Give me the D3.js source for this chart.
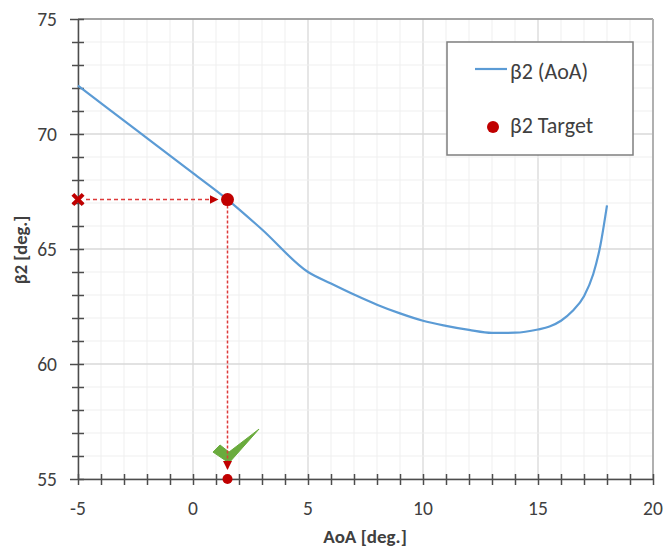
<!DOCTYPE html>
<html><head><meta charset="utf-8">
<script src="https://cdn.jsdelivr.net/npm/d3@7"></script>
<style>body{margin:0;background:#fff}svg{display:block}</style>
</head><body>
<script>
const aoa   = [-5,-2.5,0,1.5,3,5,6,7,8,9,10,11,12,13,14,15,15.5,16,16.5,17,17.4,17.7,18];
const beta2 = [72.1,70.2,68.3,67.15,65.85,64.0,63.5,63.02,62.58,62.2,61.88,61.66,61.48,61.35,61.36,61.5,61.63,61.88,62.3,62.95,63.9,65.1,66.9];
const target = {aoa:1.5, beta2:67.15};
const xTicks = [-5,0,5,10,15,20];
const yTicks = [55,60,65,70,75];
const checkMark = [[0.87,56.17],[1.174,56.48],[1.565,56.17],[2.87,57.17],[1.565,55.7]];

const W=665,H=552;
const x = d3.scaleLinear().domain([-5,20]).range([78,653]);
const y = d3.scaleLinear().domain([55,75]).range([479,19]);
const svg = d3.select("body").append("svg").attr("width",W).attr("height",H);
const font = "Carlito, 'Open Sans', 'Liberation Sans', Arial, sans-serif";

// grid
const minorX = d3.range(-5,21,1), minorY = d3.range(55,76,1);
svg.append("g").selectAll("line").data(minorX).join("line")
  .attr("x1",d=>x(d)).attr("x2",d=>x(d)).attr("y1",y(55)).attr("y2",y(75))
  .attr("stroke",d=>d%5===0?"#d9d9d9":"#efefef").attr("stroke-width",d=>d%5===0?1.3:1);
svg.append("g").selectAll("line").data(minorY).join("line")
  .attr("y1",d=>y(d)).attr("y2",d=>y(d)).attr("x1",x(-5)).attr("x2",x(20))
  .attr("stroke",d=>d%5===0?"#d9d9d9":"#efefef").attr("stroke-width",d=>d%5===0?1.3:1);
svg.append("line").attr("x1",x(-5)).attr("x2",x(20)).attr("y1",y(75)).attr("y2",y(75)).attr("stroke","#8c8c8c").attr("stroke-width",1.5);
svg.append("line").attr("x1",x(20)).attr("x2",x(20)).attr("y1",y(55)).attr("y2",y(75)).attr("stroke","#b0b0b0").attr("stroke-width",2);

// axes
const axCol="#4d4d4d";
const gx = svg.append("g").attr("transform",`translate(0,${y(55)})`)
  .call(d3.axisBottom(x).tickValues(minorX).tickSize(0).tickFormat(""));
gx.select(".domain").attr("stroke",axCol).attr("stroke-width",1.5);
gx.selectAll(".tick line").remove();
gx.selectAll(".tick").append("line").attr("y1",-5).attr("y2",6).attr("stroke",axCol).attr("stroke-width",1.5);
const gy = svg.append("g").attr("transform",`translate(${x(-5)},0)`)
  .call(d3.axisLeft(y).tickValues(minorY).tickSize(0).tickFormat(""));
gy.select(".domain").attr("stroke",axCol).attr("stroke-width",1.5);
gy.selectAll(".tick line").remove();
gy.selectAll(".tick").append("line").attr("x1",d=>d%5===0?-8:-6).attr("x2",6).attr("stroke",axCol).attr("stroke-width",1.5);

// tick labels
svg.append("g").selectAll("text").data(xTicks).join("text")
  .attr("x",d=>x(d)).attr("y",515).attr("text-anchor","middle")
  .attr("font-family",font).attr("font-size",19.5).attr("fill","#404040").text(d=>d);
svg.append("g").selectAll("text").data(yTicks).join("text")
  .attr("x",57).attr("y",d=>y(d)+6.5).attr("text-anchor","end")
  .attr("font-family",font).attr("font-size",19.5).attr("fill","#404040").text(d=>d);

// axis titles
svg.append("text").attr("x",365).attr("y",543).attr("text-anchor","middle")
  .attr("font-family",font).attr("font-size",19).attr("font-weight","bold").attr("fill","#404040").text("AoA [deg.]");
svg.append("text").attr("transform",`translate(27,250) rotate(-90)`).attr("text-anchor","middle")
  .attr("font-family",font).attr("font-size",18.5).attr("font-weight","bold").attr("fill","#404040").text("β2 [deg.]");

// data line
const pts = aoa.map((a,i)=>[a,beta2[i]]);
svg.append("path").datum(pts)
  .attr("d",d3.line().x(d=>x(d[0])).y(d=>y(d[1])).curve(d3.curveMonotoneX))
  .attr("fill","none").attr("stroke","#5b9bd5").attr("stroke-width",2.2);

// red dashed guides
const red="#c00000", redDash="#dd3b3b";
svg.append("defs").append("marker").attr("id","arr").attr("viewBox","0 0 10 10").attr("refX",10).attr("refY",5)
  .attr("markerWidth",9).attr("markerHeight",9).attr("markerUnits","userSpaceOnUse").attr("orient","auto")
  .append("path").attr("d","M0,0L10,5L0,10Z").attr("fill",red);
svg.append("line").attr("x1",x(-5)+8).attr("x2",x(target.aoa)-9).attr("y1",y(target.beta2)).attr("y2",y(target.beta2))
  .attr("stroke",redDash).attr("stroke-width",1.5).attr("stroke-dasharray","4,3").attr("marker-end","url(#arr)");

// green check mark
const checkLine = d3.line().x(d=>x(d[0])).y(d=>y(d[1]));
svg.append("path").datum(checkMark)
  .attr("d",d=>checkLine(d)+"Z")
  .attr("fill","#6aab3d").attr("stroke","#6aab3d").attr("stroke-width",1).attr("stroke-linejoin","round");

svg.append("line").attr("x1",x(target.aoa)).attr("x2",x(target.aoa)).attr("y1",y(target.beta2)+6).attr("y2",y(55)-9)
  .attr("stroke",redDash).attr("stroke-width",1.5).attr("stroke-dasharray","3,2").attr("marker-end","url(#arr)");
// X marker
svg.append("path").attr("transform",`translate(${x(-5)},${y(target.beta2)})`)
  .attr("d",d3.symbol().type(d3.symbolX).size(70)).attr("fill",red).attr("stroke",red).attr("stroke-width",4);
// target dots
svg.append("circle").attr("cx",x(target.aoa)).attr("cy",y(target.beta2)).attr("r",6.5).attr("fill",red);
svg.append("circle").attr("cx",x(target.aoa)).attr("cy",y(55)).attr("r",5).attr("fill",red);

// legend
const lg = svg.append("g");
lg.append("rect").attr("x",447).attr("y",42).attr("width",186).attr("height",113).attr("fill","#fff").attr("stroke","#7f7f7f").attr("stroke-width",1.5);
lg.append("line").attr("x1",475).attr("x2",507).attr("y1",69).attr("y2",69).attr("stroke","#5b9bd5").attr("stroke-width",2.2);
lg.append("text").attr("x",510).attr("y",79).attr("font-family",font).attr("font-size",22).attr("fill","#404040").text("β2 (AoA)");
lg.append("circle").attr("cx",493).attr("cy",127).attr("r",6).attr("fill",red);
lg.append("text").attr("x",510).attr("y",133).attr("font-family",font).attr("font-size",22).attr("fill","#404040").text("β2 Target");
</script>
</body></html>
